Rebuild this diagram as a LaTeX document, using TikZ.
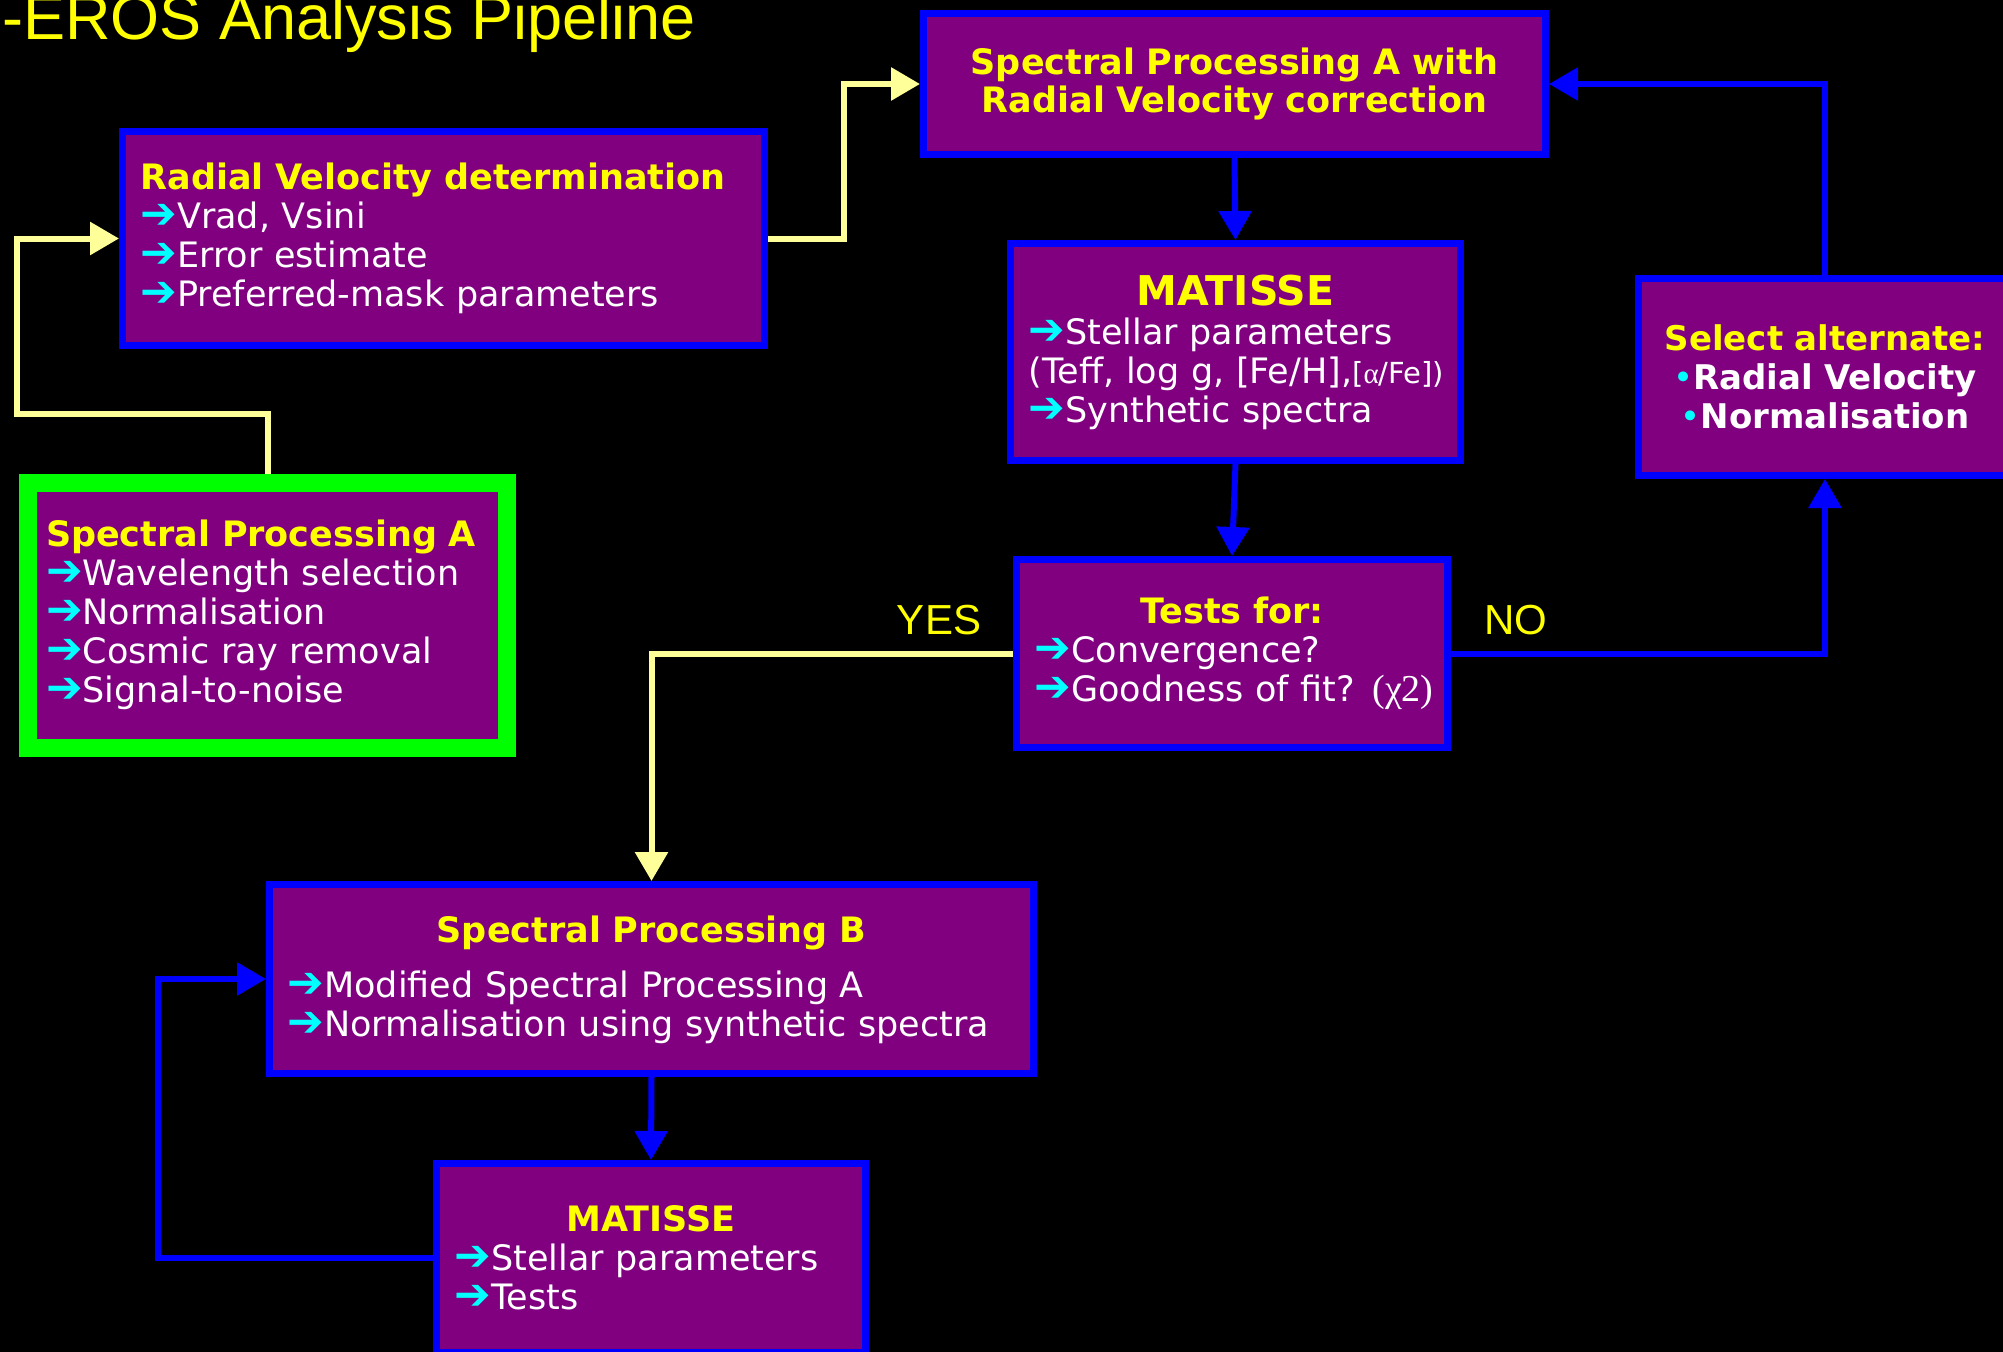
\documentclass[tikz,border=0pt]{standalone}
\usepackage{fontspec}
\usepackage{graphicx}
\setmainfont{DejaVu Sans}
\newfontfamily\arialfont{Liberation Sans}
\newfontfamily\timesfont{Liberation Serif}
\usetikzlibrary{arrows.meta}

\definecolor{boxpurple}{RGB}{128,0,128}
\definecolor{boxblue}{RGB}{0,0,255}
\definecolor{boxgreen}{RGB}{0,255,0}
\definecolor{hdyellow}{RGB}{255,255,0}
\definecolor{lnyellow}{RGB}{255,255,153}
\definecolor{arrcyan}{RGB}{0,255,255}

\newcommand{\arr}{\textcolor{arrcyan}{\scalebox{1.25}{\bfseries ➔}}}
\newcommand{\dotb}{\textcolor{arrcyan}{•}}
\newcommand{\hd}[1]{\textcolor{hdyellow}{\bfseries #1}}
\newcommand{\chd}[1]{\makebox[\linewidth][c]{\hd{#1}}}

\tikzset{
  box/.style={draw=boxblue, line width=7pt, fill=boxpurple, inner xsep=18pt, inner ysep=0pt,
    align=left, text=white, font=\fontsize{35}{39}\selectfont},
  greenbox/.style={box, draw=boxgreen, line width=18pt},
  ylwline/.style={draw=lnyellow, line width=6pt, -{Triangle[width=32pt,length=29pt]}},
  blueline/.style={draw=boxblue, line width=6pt, -{Triangle[width=32pt,length=29pt]}},
  lbl/.style={text=hdyellow, font=\arialfont\fontsize{42}{42}\selectfont, inner sep=0pt}
}

\begin{document}
\begin{tikzpicture}[x=1pt,y=1pt,yscale=-1]
\path[use as bounding box, fill=black] (0,0) rectangle (2003,1352);
\clip (0,0) rectangle (2003,1352);

\node[anchor=base west, text=hdyellow, inner sep=0pt, font=\arialfont\fontsize{63}{63}\selectfont] (ttl) at (2,39) {-EROS Analysis Pipeline};

\node[box, text width=606pt, minimum height=214pt] (rv) at (443.5,238.5)
  {\hd{Radial Velocity determination}\\ \arr Vrad, Vsini\\ \arr Error estimate\\ \arr Preferred-mask parameters};
\node[greenbox, text width=443pt, minimum height=265pt] (spa) at (267.5,615.5)
  {\hd{Spectral Processing A}\\ \arr Wavelength selection\\ \arr Normalisation\\ \arr Cosmic ray removal\\ \arr Signal-to-noise\\[-31pt]\mbox{}};
\node[box, text width=586pt, minimum height=141pt, align=center, font=\bfseries\fontsize{35}{38}\selectfont, text=hdyellow] (sparv) at (1234.5,84)
  {Spectral Processing A with\\ Radial Velocity correction};
\node[box, text width=414pt, minimum height=217pt] (mat1) at (1235.5,352)
  {\makebox[\linewidth][c]{\hd{\fontsize{41}{41}\selectfont MATISSE}}\\ \arr Stellar parameters\\ \mbox{(Teff, log g, [Fe/H],{\fontsize{29}{39}\selectfont[{\timesfont α}/Fe])}}\\ \arr Synthetic spectra};
\node[box, text width=395pt, minimum height=188pt] (tests) at (1232,653.5)
  {\chd{Tests for:}\\ \arr Convergence?\\ \mbox{\arr Goodness of fit? {\timesfont\fontsize{38}{39}\selectfont(χ2)}}};
\node[box, text width=337pt, minimum height=197pt, align=center, font=\fontsize{34}{39}\selectfont] (sel) at (1825,377)
  {\hd{Select alternate:}\\ \dotb\textbf{Radial Velocity}\\ \dotb\textbf{Normalisation}};
\node[box, text width=728pt, minimum height=189pt] (spb) at (651.5,979)
  {\chd{Spectral Processing B}\\[16pt] \arr Modified Spectral Processing A\\ \arr Normalisation using synthetic spectra\\[-33pt]\mbox{}};
\node[box, text width=393pt, minimum height=189pt] (mat2) at (651,1258)
  {\chd{MATISSE}\\ \arr Stellar parameters\\ \arr Tests};

\draw[ylwline] (spa.north) -- ++(0,-60) -| ([xshift=-102pt]rv.west) -- (rv.west);
\draw[ylwline] (rv.east) -- ++(76,0) |- (sparv.west);
\draw[blueline] (sparv.south) -- (mat1.north);
\draw[blueline] (mat1.south) -- (tests.north);
\draw[ylwline] (tests.west) -| (spb.north);
\draw[blueline] (tests.east) -| (sel.south);
\draw[blueline] (sel.north) |- (sparv.east);
\draw[blueline] (spb.south) -- (mat2.north);
\draw[blueline] (mat2.west) -- ++(-275,0) |- (spb.west);

\node[lbl] (yes) at (939,620) {YES};
\node[lbl] (no) at (1516,620) {NO};

\end{tikzpicture}
\end{document}
